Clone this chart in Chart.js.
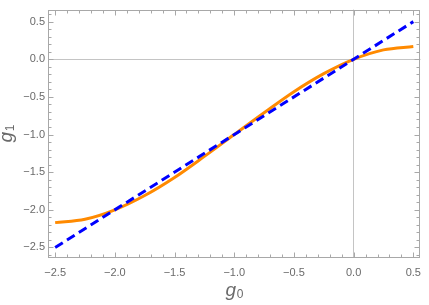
<!DOCTYPE html>
<html>
<head>
<meta charset="utf-8">
<script src="https://cdn.jsdelivr.net/npm/chart.js@4"></script>
<style>
  html, body { margin: 0; padding: 0; background: #fff; }
  #wrap { width: 429px; height: 305px; position: relative; }
</style>
</head>
<body>
<div id="wrap"><canvas id="chart"></canvas></div>
<script>
// --- data ---
const g0Values = [-2.5, -2.25, -2, -1.75, -1.5, -1.25, -1, -0.75, -0.5, -0.25, 0, 0.25, 0.5];
const g1Curve = [-2.17, -2.125, -2.0, -1.81, -1.57, -1.29, -1.0, -0.71, -0.43, -0.19, 0.0, 0.125, 0.17];
const diagX = [-2.5, 0.5];
const diagY = [-2.5, 0.5];
const xTicks = [-2.5, -2.0, -1.5, -1.0, -0.5, 0.0, 0.5];
const yTicks = [-2.5, -2.0, -1.5, -1.0, -0.5, 0.0, 0.5];

const frameColor = '#a8a8a8';
const labelColor = '#6a6a6a';

function fmt(v) {
  return v.toFixed(1).replace('-', '\u2212');
}

// frame with inward ticks on all four sides, plus the g0 / g1 axis titles
const framePlugin = {
  id: 'frame',
  afterDraw(chart) {
    const ctx = chart.ctx;
    const a = chart.chartArea;
    const xs = chart.scales.x, ys = chart.scales.y;
    const L = Math.round(a.left) + 0.5, R = Math.round(a.right) - 0.5;
    const T = Math.round(a.top) + 0.5, B = Math.round(a.bottom) - 0.5;
    ctx.save();
    ctx.strokeStyle = frameColor;
    ctx.lineWidth = 1;
    ctx.strokeRect(L, T, R - L, B - T);
    ctx.beginPath();
    const step = 0.1;
    for (let i = 0; i < xTicks.length; i++) {
      for (let k = (i === 0 ? -4 : 0); k < 5; k++) {
        const v = xTicks[i] + k * step;
        if (v < xs.min || v > xs.max) continue;
        const len = k === 0 ? 5 : 3;
        const px = Math.round(xs.getPixelForValue(v)) + 0.5;
        ctx.moveTo(px, B); ctx.lineTo(px, B - len);
        ctx.moveTo(px, T); ctx.lineTo(px, T + len);
      }
    }
    for (let i = 0; i < yTicks.length; i++) {
      for (let k = (i === 0 ? -4 : 0); k < 5; k++) {
        const v = yTicks[i] + k * step;
        if (v < ys.min || v > ys.max) continue;
        const len = k === 0 ? 5 : 3;
        const py = Math.round(ys.getPixelForValue(v)) + 0.5;
        ctx.moveTo(L, py); ctx.lineTo(L + len, py);
        ctx.moveTo(R, py); ctx.lineTo(R - len, py);
      }
    }
    ctx.stroke();

    // axis titles
    function title(sub, cx, base) {
      ctx.font = 'italic 19px "Liberation Sans"';
      const wg = ctx.measureText('g').width;
      ctx.font = '12px "Liberation Sans"';
      const ws = ctx.measureText(sub).width;
      const x0 = cx - (wg + ws) / 2;
      ctx.fillStyle = labelColor;
      ctx.textBaseline = 'alphabetic';
      ctx.textAlign = 'left';
      ctx.font = 'italic 19px "Liberation Sans"';
      ctx.fillText('g', x0, base);
      ctx.font = '12px "Liberation Sans"';
      ctx.fillText(sub, x0 + wg + 0.5, base + 2);
    }
    title('0', (a.left + a.right) / 2, 296);
    ctx.translate(12, (a.top + a.bottom) / 2);
    ctx.rotate(-Math.PI / 2);
    title('1', 0, 0);
    ctx.restore();
  }
};

const ctx = document.getElementById('chart').getContext('2d');
new Chart(ctx, {
  type: 'scatter',
  data: {
    datasets: [
      {
        label: 'g1 curve',
        data: g0Values.map((x, i) => ({ x: x, y: g1Curve[i] })),
        showLine: true,
        borderColor: '#ff8a00',
        borderWidth: 3,
        pointRadius: 0,
        cubicInterpolationMode: 'monotone',
        order: 2
      },
      {
        label: 'g1 = g0',
        data: diagX.map((x, i) => ({ x: x, y: diagY[i] })),
        showLine: true,
        borderColor: '#0000ff',
        borderWidth: 3,
        borderDash: [9, 5],
        pointRadius: 0,
        order: 1
      }
    ]
  },
  options: {
    responsive: true,
    maintainAspectRatio: false,
    animation: false,
    devicePixelRatio: 1,
    layout: { padding: { left: 0, right: 2, top: 1, bottom: 0 } },
    plugins: {
      legend: { display: false },
      tooltip: { enabled: false }
    },
    scales: {
      x: {
        type: 'linear',
        min: -2.56,
        max: 0.56,
        afterBuildTicks: s => { s.ticks = xTicks.map(v => ({ value: v })); },
        afterFit: s => { s.height = 47; },
        border: { display: false },
        grid: {
          drawTicks: false,
          color: c => (c.tick && c.tick.value === 0 ? '#c4c4c4' : 'rgba(0,0,0,0)')
        },
        ticks: {
          padding: 8,
          color: labelColor,
          font: { family: '"Liberation Sans"', size: 11 },
          maxRotation: 0,
          callback: v => fmt(v)
        }
      },
      y: {
        type: 'linear',
        min: -2.64,
        max: 0.66,
        afterBuildTicks: s => { s.ticks = yTicks.map(v => ({ value: v })); },
        afterFit: s => { s.width = 48; },
        border: { display: false },
        grid: {
          drawTicks: false,
          color: c => (c.tick && c.tick.value === 0 ? '#c4c4c4' : 'rgba(0,0,0,0)')
        },
        ticks: {
          padding: 3,
          color: labelColor,
          font: { family: '"Liberation Sans"', size: 11 },
          callback: v => fmt(v)
        }
      }
    }
  },
  plugins: [framePlugin]
});
</script>
</body>
</html>
